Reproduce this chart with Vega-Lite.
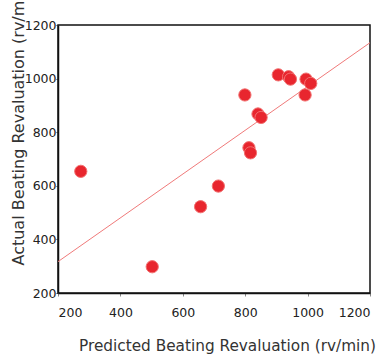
{
  "$schema": "https://vega.github.io/schema/vega-lite/v6.json",
  "width": 312,
  "height": 268,
  "autosize": {"type": "none"},
  "padding": {"left": 58, "top": 25, "right": 18, "bottom": 65},
  "background": "white",
  "config": {
    "view": {"stroke": "#111", "strokeWidth": 1.5},
    "font": "DejaVu Sans"
  },
  "datasets": {
    "pts": [
      {"predicted": 273, "actual": 654},
      {"predicted": 502, "actual": 298},
      {"predicted": 657, "actual": 522},
      {"predicted": 714, "actual": 599},
      {"predicted": 812, "actual": 742},
      {"predicted": 817, "actual": 723},
      {"predicted": 799, "actual": 939},
      {"predicted": 841, "actual": 868},
      {"predicted": 851, "actual": 855},
      {"predicted": 906, "actual": 1014},
      {"predicted": 939, "actual": 1007},
      {"predicted": 945, "actual": 998},
      {"predicted": 995, "actual": 998},
      {"predicted": 1010, "actual": 982},
      {"predicted": 992, "actual": 939}
    ],
    "fit": [
      {"predicted": 200, "actual": 317},
      {"predicted": 1200, "actual": 1134}
    ]
  },
  "layer": [
    {
      "data": {"name": "fit"},
      "mark": {"type": "line", "color": "#f07a7a", "strokeWidth": 1, "clip": true},
      "encoding": {
        "x": {"field": "predicted", "type": "quantitative"},
        "y": {"field": "actual", "type": "quantitative"}
      }
    },
    {
      "data": {"name": "pts"},
      "mark": {"type": "circle", "size": 150, "fill": "#e8262e", "stroke": "#f27070", "strokeWidth": 1, "opacity": 1},
      "encoding": {
        "x": {
          "field": "predicted", "type": "quantitative",
          "scale": {"domain": [200, 1200], "nice": false, "zero": false},
          "axis": {
            "title": "Predicted Beating Revaluation (rv/min)",
            "values": [200, 400, 600, 800, 1000, 1200],
            "format": "d",
            "grid": false,
            "domainColor": "#111", "domainWidth": 1.5,
            "tickColor": "#888", "tickSize": 3, "tickWidth": 1,
            "labelFontSize": 12.5, "labelColor": "#222", "labelPadding": 10,
            "titleFontSize": 15.3, "titleFontWeight": "normal", "titleColor": "#333",
            "titlePadding": 20, "titleX": 169
          }
        },
        "y": {
          "field": "actual", "type": "quantitative",
          "scale": {"domain": [200, 1200], "nice": false, "zero": false},
          "axis": {
            "title": "Actual Beating Revaluation (rv/min)",
            "values": [200, 400, 600, 800, 1000, 1200],
            "format": "d",
            "grid": false,
            "domainColor": "#111", "domainWidth": 1.5,
            "tickColor": "#333", "tickSize": 2, "tickWidth": 1,
            "labelFontSize": 12.5, "labelColor": "#222", "labelPadding": 0,
            "titleFontSize": 16, "titleFontWeight": "normal", "titleColor": "#333",
            "titleAlign": "left", "titleY": 240, "titleX": -32
          }
        }
      }
    }
  ]
}
